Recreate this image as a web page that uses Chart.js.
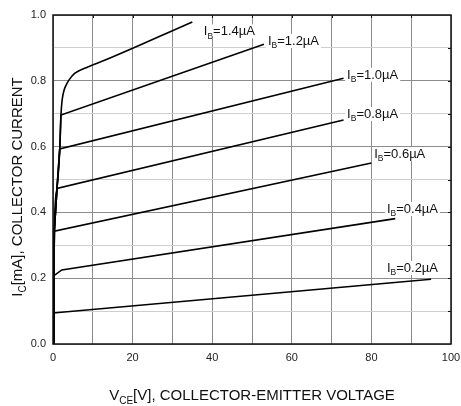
<!DOCTYPE html>
<html>
<head>
<meta charset="utf-8">
<script src="https://cdn.jsdelivr.net/npm/chart.js@4"></script>
<style>
  body { margin: 0; background: #fff; }
  canvas { display: block; }
</style>
</head>
<body>
<canvas id="icChart" width="461" height="406"></canvas>
<script>
/* ---------- DATA ---------- */
const baseCurrents = ["0.2", "0.4", "0.6", "0.8", "1.0", "1.2", "1.4"];

// common steep rise near V=0 (saturation region)
const riseV = [0, 0.25, 0.33, 1.0, 1.7, 2.0];
const riseI = [0, 0.208, 0.343, 0.473, 0.593, 0.696];

const v02 = [0, 95];
const i02 = [0.094, 0.197];

const v04 = [0, 0.25, 2.2, 86];
const i04 = [0, 0.208, 0.225, 0.381];

const v06 = [...riseV.slice(0, 3), 80];
const i06 = [...riseI.slice(0, 3), 0.55];

const v08 = [...riseV.slice(0, 4), 73];
const i08 = [...riseI.slice(0, 4), 0.681];

const v10 = [...riseV.slice(0, 5), 73];
const i10 = [...riseI.slice(0, 5), 0.808];

const v12 = [...riseV, 53];
const i12 = [...riseI, 0.911];

const v14 = [...riseV, 2.3, 2.8, 3.3, 4.0, 5.5, 8.9, 13.1, 35];
const i14 = [...riseI, 0.742, 0.772, 0.787, 0.802, 0.823, 0.843, 0.863, 0.979];

const xTicks = [0, 20, 40, 60, 80, 100];
const yTicks = [0.0, 0.2, 0.4, 0.6, 0.8, 1.0];

// where each I_B label sits (data coords, left/baseline of text)
const labelV = [83.9, 83.9, 80.7, 73.9, 73.9, 54.0, 37.9];
const labelI = [0.219, 0.398, 0.565, 0.687, 0.806, 0.909, 0.938];

/* ---------- helpers ---------- */
const FONT = "'Liberation Sans', Arial, sans-serif";

function toPoints(vs, is) {
  return vs.map((v, k) => ({ x: v, y: is[k] }));
}

const curves = [
  [v02, i02], [v04, i04], [v06, i06], [v08, i08],
  [v10, i10], [v12, i12], [v14, i14]
];

// draw text made of normal + subscript pieces, returns width
function richText(ctx, parts, x, y, size, subSize, dryRun) {
  let cx = x;
  parts.forEach(p => {
    ctx.font = (p.sub ? subSize : size) + "px " + FONT;
    if (!dryRun) ctx.fillText(p.t, cx, p.sub ? y + size * 0.25 : y);
    cx += ctx.measureText(p.t).width;
  });
  return cx - x;
}

/* ---------- PLUGIN: frame, labels, titles ---------- */
const decorPlugin = {
  id: "decor",
  afterDatasetsDraw(chart) {
    const ctx = chart.ctx;
    const a = chart.chartArea;
    const xs = chart.scales.x, ys = chart.scales.y;
    ctx.save();

    // frame
    ctx.strokeStyle = "#111";
    ctx.lineWidth = 1.5;
    ctx.strokeRect(a.left, a.top, a.right - a.left, a.bottom - a.top);

    // small inward ticks on right and top edges
    ctx.lineWidth = 1;
    ctx.beginPath();
    for (let v = 10; v < 100; v += 10) {
      const px = Math.round(xs.getPixelForValue(v)) + 0.5;
      ctx.moveTo(px, a.top); ctx.lineTo(px, a.top + 3);
    }
    for (let k = 1; k < 10; k++) {
      const py = Math.round(ys.getPixelForValue(k / 10)) + 0.5;
      ctx.moveTo(a.right, py); ctx.lineTo(a.right - 3, py);
    }
    ctx.stroke();

    // I_B labels with white background
    ctx.textBaseline = "alphabetic";
    baseCurrents.forEach((ib, k) => {
      const parts = [{ t: "I" }, { t: "B", sub: true }, { t: "=" + ib + "\u00b5A" }];
      const px = xs.getPixelForValue(labelV[k]);
      const py = ys.getPixelForValue(labelI[k]);
      const w = richText(ctx, parts, px, py, 13, 8.5, true);
      ctx.fillStyle = "#fff";
      ctx.fillRect(px - 2, py - 11, w + 4, 14);
      ctx.fillStyle = "#111";
      richText(ctx, parts, px, py, 13, 8.5, false);
    });

    // axis titles
    const xt = [{ t: "V" }, { t: "CE", sub: true }, { t: "[V], COLLECTOR-EMITTER VOLTAGE" }];
    const wx = richText(ctx, xt, 0, 0, 15, 10, true);
    ctx.fillStyle = "#111";
    richText(ctx, xt, (a.left + a.right) / 2 - wx / 2, 400, 15, 10, false);

    const yt = [{ t: "I" }, { t: "C", sub: true }, { t: "[mA], COLLECTOR CURRENT" }];
    const wy = richText(ctx, yt, 0, 0, 15, 10, true);
    ctx.translate(22, 187);
    ctx.rotate(-Math.PI / 2);
    richText(ctx, yt, -wy / 2, 0, 15, 10, false);

    ctx.restore();
  }
};

/* ---------- CHART ---------- */
const gridColor = c => (Math.round(c.tick.value * 100) % 20 === 0 ? "#8c8c8c" : "#cfcfcf");

new Chart(document.getElementById("icChart"), {
  type: "line",
  data: {
    datasets: curves.map((c, k) => ({
      label: "IB=" + baseCurrents[k],
      data: toPoints(c[0], c[1]),
      borderColor: "#000",
      borderWidth: 1.6,
      pointRadius: 0,
      fill: false,
      cubicInterpolationMode: k === 6 ? "monotone" : "default",
      tension: 0
    }))
  },
  options: {
    responsive: false,
    animation: false,
    layout: { padding: { top: 15, right: 10, left: 0, bottom: 0 } },
    plugins: {
      legend: { display: false },
      tooltip: { enabled: false }
    },
    scales: {
      x: {
        type: "linear",
        min: 0,
        max: 100,
        afterFit: s => { s.height = 62; s.paddingLeft = 0; s.paddingRight = 0; },
        ticks: {
          stepSize: 10,
          autoSkip: false,
          maxRotation: 0,
          padding: 7,
          color: "#222",
          font: { family: FONT, size: 11 },
          callback: v => (xTicks.includes(v) ? String(v) : "")
        },
        grid: { color: gridColor, lineWidth: 1, drawTicks: false },
        border: { display: false }
      },
      y: {
        type: "linear",
        min: 0,
        max: 1,
        afterFit: s => { s.width = 53; s.paddingTop = 0; s.paddingBottom = 0; },
        ticks: {
          stepSize: 0.1,
          autoSkip: false,
          padding: 7,
          color: "#222",
          font: { family: FONT, size: 11 },
          callback: v => {
            const t = yTicks.find(q => Math.abs(q - v) < 1e-6);
            return t === undefined ? "" : t.toFixed(1);
          }
        },
        grid: { color: gridColor, lineWidth: 1, drawTicks: false },
        border: { display: false }
      }
    }
  },
  plugins: [decorPlugin]
});
</script>
</body>
</html>
